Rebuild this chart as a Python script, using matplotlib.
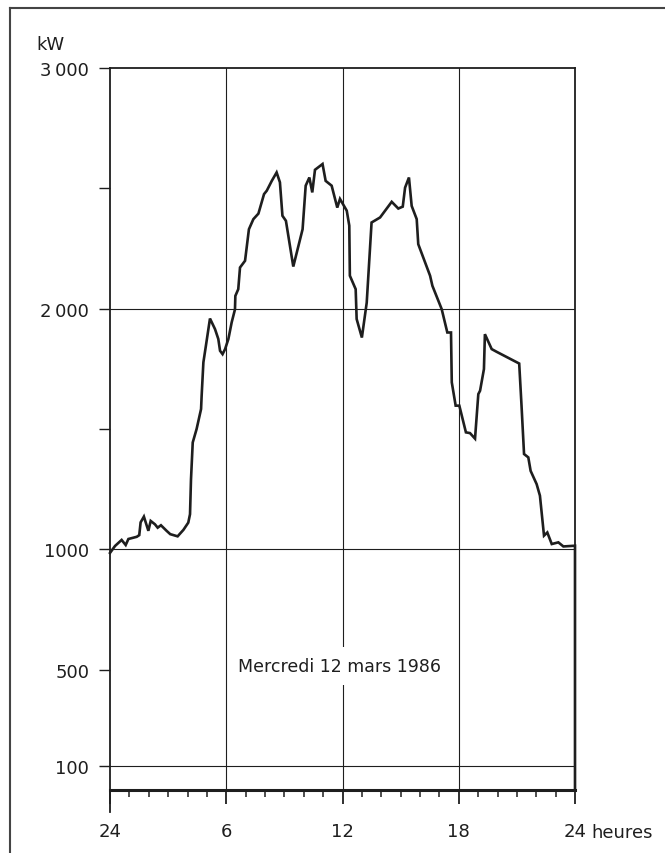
import numpy as np
import matplotlib
matplotlib.use("Agg")
import matplotlib.pyplot as plt
from matplotlib.lines import Line2D

#%% Data

# Time of day (hours, 24 = midnight)
hours = [0.0, 0.26, 0.6, 0.81, 0.95, 1.38, 1.51, 1.58, 1.75, 1.98,
         2.1, 2.32, 2.46, 2.63, 2.92, 3.11, 3.49, 3.79, 4.04, 4.13,
         4.18, 4.27, 4.47, 4.7, 4.73, 4.82, 4.95, 5.16, 5.42, 5.59,
         5.68, 5.81, 5.94, 6.11, 6.28, 6.45, 6.47, 6.62, 6.71, 6.97,
         7.17, 7.4, 7.66, 7.95, 8.09, 8.35, 8.6, 8.77, 8.9, 9.08,
         9.46, 9.94, 10.1, 10.29, 10.44, 10.58, 10.97, 11.13, 11.44, 11.73,
         11.87, 12.22, 12.35, 12.38, 12.68, 12.73, 13.0, 13.25, 13.5, 13.94,
         14.54, 14.88, 15.11, 15.23, 15.43, 15.57, 15.83, 15.91, 16.52, 16.64,
         17.12, 17.41, 17.6, 17.64, 17.84, 18.03, 18.37, 18.58, 18.84, 19.01,
         19.1, 19.3, 19.35, 19.7, 19.95, 21.12, 21.24, 21.37, 21.59, 21.71,
         22.02, 22.19, 22.4, 22.57, 22.8, 23.14, 23.4, 24.0, 24.0]

# Load (kW)
load_kw = [985, 1014, 1039, 1018, 1043, 1052, 1059, 1112, 1136, 1077,
           1118, 1104, 1090, 1100, 1077, 1063, 1054, 1081, 1111, 1146,
           1290, 1444, 1500, 1583, 1638, 1777, 1846, 1959, 1915, 1874,
           1825, 1811, 1832, 1874, 1943, 1997, 2053, 2081, 2171, 2199,
           2330, 2372, 2395, 2476, 2490, 2531, 2566, 2525, 2386, 2365,
           2175, 2330, 2511, 2545, 2483, 2577, 2601, 2531, 2511, 2420,
           2456, 2407, 2345, 2137, 2081, 1957, 1880, 2025, 2358, 2379,
           2444, 2416, 2424, 2503, 2545, 2427, 2372, 2268, 2137, 2095,
           1998, 1901, 1901, 1694, 1597, 1597, 1486, 1483, 1460, 1645,
           1659, 1749, 1894, 1832, 1821, 1772, 1597, 1396, 1382, 1326,
           1271, 1223, 1057, 1070, 1022, 1029, 1012, 1015, 0]

# Axis ticks and labels
y_ticks = [3000, 2500, 2000, 1500, 1000, 500, 100]
y_labels = ['3\u2009000', '', '2\u2009000', '', '1000', '500', '100']
y_grid = [2000, 1000, 100]
x_major = [0, 6, 12, 18, 24]
x_labels = ['24', '6', '12', '18', '24']
x_minor = list(range(0, 25))
x_grid = [6, 12, 18]

day_label = 'Mercredi 12 mars 1986'

#%% Figure

plt.rcParams['font.family'] = ['DejaVu Sans']
ink = '#1e1e1e'

fig = plt.figure(figsize=(6.65, 8.54), dpi=100)
ax = fig.add_axes([110/665, 1-791/854, 465/665, 722/854])

# Grid lines
for g in y_grid:
    ax.axhline(g, color=ink, lw=0.8, zorder=1)
for g in x_grid:
    ax.axvline(g, color=ink, lw=0.8, zorder=1)

# Load curve
ax.plot(hours, load_kw, color=ink, lw=1.9, solid_joinstyle='miter', zorder=3, clip_on=False)

# Date label, white box breaks the grid line
ax.text(11.85, 515, day_label, ha='center', va='center', fontsize=12.5, color=ink,
        bbox=dict(facecolor='white', edgecolor='none', pad=7), zorder=2)

# Limits
ax.set_xlim(0, 24)
ax.set_ylim(0, 3000)

# Spines
for s in ['left', 'top', 'right']:
    ax.spines[s].set_linewidth(1.3)
    ax.spines[s].set_color(ink)
ax.spines['bottom'].set_linewidth(2.2)
ax.spines['bottom'].set_color(ink)

# Y ticks outside to the left
ax.set_yticks(y_ticks)
ax.set_yticklabels(y_labels)
ax.tick_params(axis='y', direction='out', length=8, width=1.0, color=ink,
               pad=7, labelsize=13, labelcolor=ink)

# X ticks downwards
ax.set_xticks(x_major)
ax.set_xticklabels(x_labels)
ax.set_xticks(x_minor, minor=True)
ax.tick_params(axis='x', which='major', direction='out', length=10, width=1.3,
               color=ink, pad=13, labelsize=13, labelcolor=ink)
ax.tick_params(axis='x', which='minor', direction='out', length=5, width=1.1, color=ink)

# Left axis runs a bit below the time axis
ax.axvline(0, ymin=-0.031, ymax=0, color=ink, lw=1.3, clip_on=False)

# Units
ax.annotate('heures', xy=(24, 0), xycoords='data', xytext=(16, -42),
            textcoords='offset pixels', ha='left', va='center',
            fontsize=13, color=ink, annotation_clip=False)
fig.text(36/665, 1-45/854, 'kW', ha='left', va='center', fontsize=13, color=ink)

# Outer frame
fig.add_artist(Line2D([10/665, 1.0], [1-9/854, 1-9/854], color='#444444', lw=1.5))
fig.add_artist(Line2D([10/665, 10/665], [0.0, 1-9/854], color='#444444', lw=1.5))

fig.savefig('out.png', dpi=100, facecolor='white')
